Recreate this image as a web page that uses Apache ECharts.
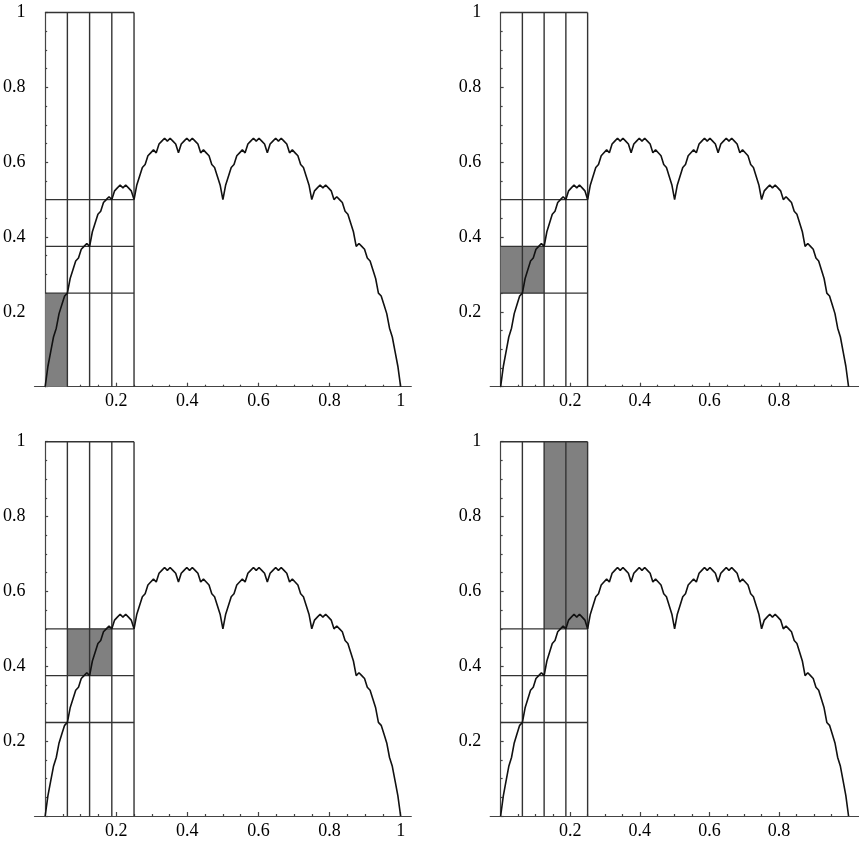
<!DOCTYPE html>
<html>
<head>
<meta charset="utf-8">
<script src="https://cdn.jsdelivr.net/npm/echarts@6/dist/echarts.min.js"></script>
<style>
html,body{margin:0;padding:0;background:#fff;}
#chart{width:859px;height:845px;}
</style>
</head>
<body>
<div id="chart"></div>
<script>
const curveY = [
0,0.0547,0.0938,0.1328,0.1563,0.1953,0.2188,0.2422,0.25,0.2891,0.3125,0.3359,0.3438,0.3672,0.375,0.3828,
0.375,0.4141,0.4375,0.4609,0.4688,0.4922,0.5,0.5078,0.5,0.5234,0.5313,0.5391,0.5313,0.5391,0.5313,0.5234,
0.5,0.5391,0.5625,0.5859,0.5938,0.6172,0.625,0.6328,0.625,0.6484,0.6563,0.6641,0.6563,0.6641,0.6563,0.6484,
0.625,0.6484,0.6563,0.6641,0.6563,0.6641,0.6563,0.6484,0.625,0.6328,0.625,0.6172,0.5938,0.5859,0.5625,0.5391,
0.5,
0.5391,0.5625,0.5859,0.5938,0.6172,0.625,0.6328,0.625,0.6484,0.6563,0.6641,0.6563,0.6641,0.6563,0.6484,0.625,
0.6484,0.6563,0.6641,0.6563,0.6641,0.6563,0.6484,0.625,0.6328,0.625,0.6172,0.5938,0.5859,0.5625,0.5391,0.5,
0.5234,0.5313,0.5391,0.5313,0.5391,0.5313,0.5234,0.5,0.5078,0.5,0.4922,0.4688,0.4609,0.4375,0.4141,0.375,
0.3828,0.375,0.3672,0.3438,0.3359,0.3125,0.2891,0.25,0.2422,0.2188,0.1953,0.1563,0.1328,0.0938,0.0547,0
];
const curveStep = 1 / 128;

// Grid of rectangles
const columnX = [0.0625, 0.125, 0.1875, 0.25];   // vertical lines
const rowY = [0.25, 0.375, 0.5, 1];               // horizontal lines
const columnLeft = 0, columnRight = 0.25, rowBottom = 0, rowTop = 1;

// Shaded box per panel: [x1, x2, y1, y2]
const shadedBoxes = [
  [0, 0.0625, 0, 0.25],
  [0, 0.125, 0.25, 0.375],
  [0.0625, 0.1875, 0.375, 0.5],
  [0.125, 0.25, 0.5, 1]
];

// Tick labels
const xLabelsFull = [0.2, 0.4, 0.6, 0.8, 1];
const xLabelsCut = [0.2, 0.4, 0.6, 0.8];
const xMinorTicks = [0.05,0.1,0.15,0.25,0.3,0.35,0.45,0.5,0.55,0.65,0.7,0.75,0.85,0.9,0.95];

const curveData = curveY.map((y, i) => [i * curveStep, y]);
const segments = columnX.map(x => [x, rowBottom, x, rowTop])
  .concat(rowY.map(y => [columnLeft, y, columnRight, y]));

const panels = [
  {left: 31.8, top: 12.5, width: 379.5, height: 374.2, labels: xLabelsFull},
  {left: 490.2, top: 12.5, width: 381.6, height: 374.2, labels: xLabelsCut},
  {left: 31.8, top: 441.7, width: 379.5, height: 374.3, labels: xLabelsFull},
  {left: 490.2, top: 441.7, width: 381.6, height: 374.3, labels: xLabelsCut}
];

const font = '"Liberation Serif", "Times New Roman", serif';
const axisColor = '#444';
const grid = [], xAxis = [], yAxis = [], series = [];

panels.forEach((p, i) => {
  grid.push({left: p.left, top: p.top, width: p.width, height: p.height, containLabel: false});
  xAxis.push({
    type: 'value', gridIndex: i, min: -0.03, max: 1.03, position: 'bottom',
    axisLine: {onZero: true, lineStyle: {color: axisColor, width: 1.2}},
    axisTick: {show: true, inside: true, length: 4, customValues: p.labels, lineStyle: {color: axisColor, width: 1.2}},
    axisLabel: {show: true, customValues: p.labels, color: '#000', fontFamily: font, fontSize: 18, margin: 6},
    splitLine: {show: false}
  });
  yAxis.push({
    type: 'value', gridIndex: i, min: 0, max: 1, interval: 0.2,
    axisLine: {show: true, onZero: true, lineStyle: {color: axisColor, width: 1.2}},
    axisTick: {show: true, inside: true, length: 3, lineStyle: {color: axisColor, width: 1.2}},
    minorTick: {show: true, splitNumber: 4, length: 2, lineStyle: {color: axisColor, width: 1.2}},
    axisLabel: {show: true, showMinLabel: false, color: '#000', fontFamily: font, fontSize: 18, margin: 9},
    splitLine: {show: false}, minorSplitLine: {show: false}
  });
});
// minor x ticks
panels.forEach((p, i) => {
  xAxis.push({
    type: 'value', gridIndex: i, min: -0.03, max: 1.03, position: 'bottom',
    axisLine: {show: false, onZero: true},
    axisTick: {show: true, inside: true, length: 2, customValues: xMinorTicks, lineStyle: {color: axisColor, width: 1.2}},
    axisLabel: {show: false},
    splitLine: {show: false}
  });
});

panels.forEach((p, i) => {
  series.push({
    type: 'custom', xAxisIndex: i, yAxisIndex: i, z: 1, silent: true,
    data: [shadedBoxes[i]],
    encode: {x: [0, 1], y: [2, 3]},
    renderItem: (params, api) => {
      const a = api.coord([api.value(0), api.value(3)]);
      const b = api.coord([api.value(1), api.value(2)]);
      return {type: 'rect', shape: {x: a[0], y: a[1], width: b[0] - a[0], height: b[1] - a[1]},
        style: {fill: '#808080'}};
    }
  });
  series.push({
    type: 'custom', xAxisIndex: i, yAxisIndex: i, z: 2, silent: true,
    data: segments,
    encode: {x: [0, 2], y: [1, 3]},
    renderItem: (params, api) => {
      const a = api.coord([api.value(0), api.value(1)]);
      const b = api.coord([api.value(2), api.value(3)]);
      return {type: 'line', shape: {x1: a[0], y1: a[1], x2: b[0], y2: b[1]},
        style: {stroke: '#333', lineWidth: 1.4}};
    }
  });
  series.push({
    type: 'line', xAxisIndex: i, yAxisIndex: i, z: 3, silent: true,
    data: curveData, showSymbol: false, symbol: 'none', animation: false,
    lineStyle: {color: '#111', width: 1.6}
  });
});

const chart = echarts.init(document.getElementById('chart'), null, {renderer: 'canvas'});
chart.setOption({animation: false, backgroundColor: '#fff', grid, xAxis, yAxis, series});
</script>
</body>
</html>
